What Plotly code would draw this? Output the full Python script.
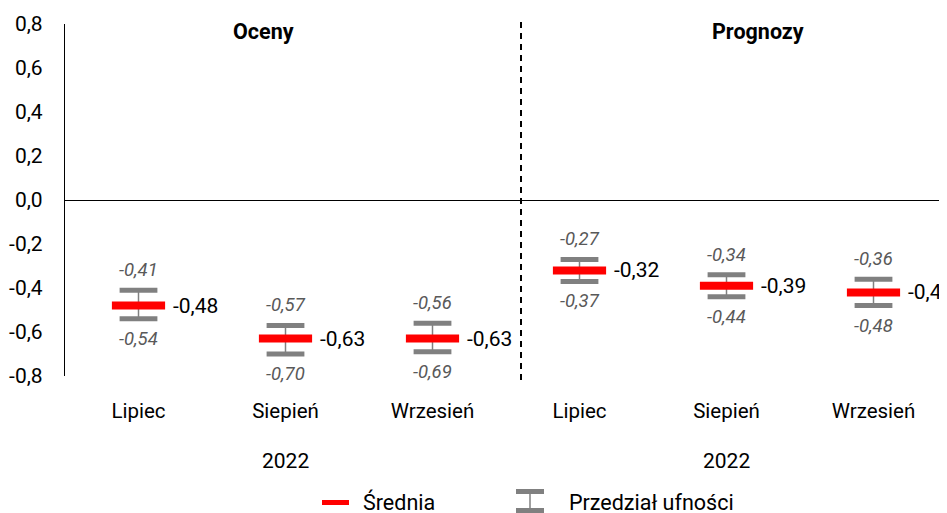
import plotly.graph_objects as go

# ---- data ----
categories = ["Lipiec", "Siepień", "Wrzesień", "Lipiec", "Siepień", "Wrzesień"]
groups = ["Oceny", "Prognozy"]
group_years = ["2022", "2022"]
mean_vals = [-0.48, -0.63, -0.63, -0.32, -0.39, -0.42]
upper_vals = [-0.41, -0.57, -0.56, -0.27, -0.34, -0.36]
lower_vals = [-0.54, -0.70, -0.69, -0.37, -0.44, -0.48]
y_ticks = [-0.8, -0.6, -0.4, -0.2, 0.0, 0.2, 0.4, 0.6, 0.8]

OFF = 8  # page body margin
W, H = 947 - OFF, 513 - OFF
L, T = 65 - OFF, 24 - OFF
PB = 376 - OFF  # plot bottom in figure px
R, B = 0, H - PB
PW, PH = W - L - R, PB - T

def px(xp):  # page px -> paper x
    return (xp - OFF - L) / PW

def py(yp):  # page px -> paper y
    return (PB - (yp - OFF)) / PH

def fmt(v):
    return f"{v:.2f}".replace(".", ",")

def fmt1(v):
    return f"{v:.1f}".replace(".", ",")

FONT = "Roboto"
GREY = "#808080"
RED = "#FF0000"

x = list(range(len(categories)))

fig = go.Figure()

# whiskers
fig.add_trace(go.Scatter(
    x=x, y=mean_vals, mode="markers",
    marker=dict(size=2, color="rgba(0,0,0,0)"),
    error_y=dict(type="data", symmetric=False,
                 array=[u - m for u, m in zip(upper_vals, mean_vals)],
                 arrayminus=[m - l for m, l in zip(mean_vals, lower_vals)],
                 color=GREY, thickness=1.5, width=0),
    showlegend=False, hoverinfo="skip"))

# caps
fig.add_trace(go.Scatter(
    x=x + x, y=upper_vals + lower_vals, mode="markers",
    marker=dict(symbol="line-ew", size=27, line=dict(width=5, color=GREY)),
    showlegend=False, hoverinfo="skip"))

# means
fig.add_trace(go.Scatter(
    x=x, y=mean_vals, mode="markers",
    marker=dict(symbol="line-ew", size=38, line=dict(width=8, color=RED)),
    showlegend=False, hoverinfo="skip"))

annotations = []
for i in x:
    annotations.append(dict(x=i, y=mean_vals[i], xref="x", yref="y", text=fmt(mean_vals[i]),
                            showarrow=False, xanchor="left", yanchor="middle", xshift=32,
                            font=dict(family=FONT, size=21, color="#000000")))
    annotations.append(dict(x=i, y=upper_vals[i], xref="x", yref="y", text="<i>" + fmt(upper_vals[i]) + "</i>",
                            showarrow=False, xanchor="center", yanchor="middle", yshift=20,
                            font=dict(family=FONT, size=18.5, color="#595959")))
    annotations.append(dict(x=i, y=lower_vals[i], xref="x", yref="y", text="<i>" + fmt(lower_vals[i]) + "</i>",
                            showarrow=False, xanchor="center", yanchor="middle", yshift=-20,
                            font=dict(family=FONT, size=18.5, color="#595959")))

def note(xv, yv, text, xref="paper", xanchor="center", size=21):
    return dict(x=xv, y=yv, xref=xref, yref="paper", text=text, showarrow=False,
                xanchor=xanchor, yanchor="middle",
                font=dict(family=FONT, size=size, color="#000000"))

# group titles
annotations.append(note(px(263), py(32), "<b>" + groups[0] + "</b>", size=21.5))
annotations.append(note(px(757.5), py(32), "<b>" + groups[1] + "</b>", size=21.5))
# years
annotations.append(note(1, py(461), group_years[0], xref="x"))
annotations.append(note(4, py(461), group_years[1], xref="x"))
# legend texts
annotations.append(note(px(361), py(502), "Średnia", xanchor="left", size=21.5))
annotations.append(note(px(567), py(502), "Przedział ufności", xanchor="left", size=21.5))

shapes = [
    # dashed divider
    dict(type="line", xref="paper", yref="paper", x0=px(521), x1=px(521), y0=py(380), y1=py(22),
         line=dict(color="#000000", width=2, dash="6px,5px")),
    # legend: mean
    dict(type="line", xref="paper", yref="paper", x0=px(322), x1=px(349), y0=py(502.5), y1=py(502.5),
         line=dict(color=RED, width=5)),
    # legend: interval
    dict(type="line", xref="paper", yref="paper", x0=px(516), x1=px(544), y0=py(491.5), y1=py(491.5),
         line=dict(color=GREY, width=5)),
    dict(type="line", xref="paper", yref="paper", x0=px(516), x1=px(544), y0=py(510.5), y1=py(510.5),
         line=dict(color=GREY, width=5)),
    dict(type="line", xref="paper", yref="paper", x0=px(530), x1=px(530), y0=py(491.5), y1=py(510.5),
         line=dict(color=GREY, width=1.5)),
]

fig.update_layout(
    width=W, height=H,
    margin=dict(l=L, r=R, t=T, b=B, pad=0),
    paper_bgcolor="white", plot_bgcolor="white",
    font=dict(family=FONT, size=20, color="#000000"),
    showlegend=False,
    annotations=annotations,
    shapes=shapes,
    xaxis=dict(range=[-0.5, 5.5], tickvals=x, ticktext=categories, showgrid=False,
               zeroline=False, showline=False, ticks="", ticklabelstandoff=20,
               tickfont=dict(family=FONT, size=20.5, color="#000000")),
    yaxis=dict(range=[-0.8, 0.8], tickvals=y_ticks, ticktext=[fmt1(v) for v in y_ticks],
               showgrid=False, zeroline=True, zerolinecolor="#000000", zerolinewidth=1.3,
               showline=True, linecolor="#000000", linewidth=1.3, ticks="", ticklabelstandoff=17,
               tickfont=dict(family=FONT, size=21, color="#000000")),
)

fig.write_html("out.html")
